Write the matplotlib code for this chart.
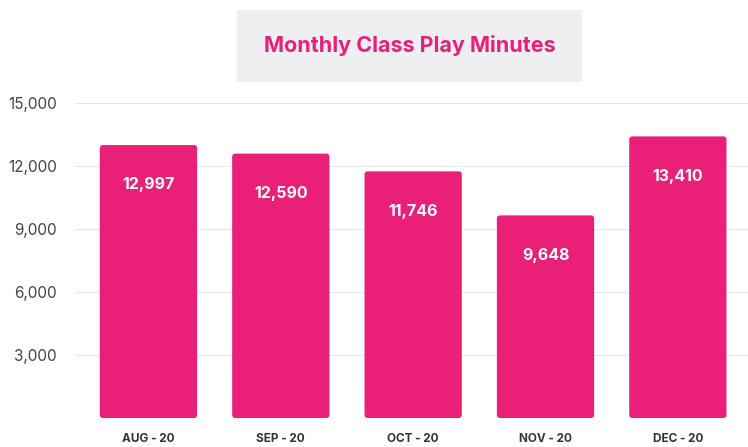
import matplotlib
matplotlib.use("Agg")
import matplotlib.pyplot as plt
from matplotlib.patches import FancyBboxPatch

months = ["AUG - 20", "SEP - 20", "OCT - 20", "NOV - 20", "DEC - 20"]
minutes = [12997, 12590, 11746, 9648, 13410]
y_ticks = [3000, 6000, 9000, 12000, 15000]

pink = "#EA1F78"

plt.rcParams["font.family"] = ["Inter", "DejaVu Sans"]

fig = plt.figure(figsize=(7.48, 4.47), dpi=100)
ax = fig.add_axes([75 / 748, 29 / 447, 673 / 748, 315 / 447])

x = list(range(len(months)))
bars = ax.bar(x, minutes, width=0.735, color=pink, zorder=2)

# rounded corners: swap each bar for a rounded box with the same geometry
for b in bars:
    bx, by = b.get_x(), b.get_y()
    bw, bh = b.get_width(), b.get_height()
    b.set_visible(False)
    patch = FancyBboxPatch((bx, by), bw, bh,
                           boxstyle="round,pad=0,rounding_size=0.025",
                           mutation_aspect=15000 / 315 * 132.4,
                           facecolor=pink, edgecolor="none", zorder=2)
    ax.add_patch(patch)

for xi, v in zip(x, minutes):
    ax.text(xi, v - 1900, f"{v:,}", ha="center", va="center",
            color="white", fontsize=11.5, fontweight="bold", zorder=3)

ax.set_xlim(-0.555, 4.53)
ax.set_ylim(0, 15000)
ax.set_yticks(y_ticks)
ax.set_yticklabels([f"{t:,}" for t in y_ticks], color="#444444", fontsize=11)
ax.set_xticks(x)
ax.set_xticklabels(months, color="#333333", fontsize=8.5, fontweight="bold")
ax.tick_params(axis="both", length=0)
ax.tick_params(axis="y", pad=13)
ax.tick_params(axis="x", pad=11)
ax.grid(axis="y", color="#e8e8e8", linewidth=0.8, zorder=0)
for s in ax.spines.values():
    s.set_visible(False)

# title box
fig.patches.append(FancyBboxPatch((237 / 748, (447 - 82) / 447), 345 / 748, 72 / 447,
                                  boxstyle="square,pad=0", transform=fig.transFigure,
                                  facecolor="#efeff1", edgecolor="none"))
fig.text(410 / 748, (447 - 46) / 447, "Monthly Class Play Minutes", ha="center",
         va="center", color=pink, fontsize=15.5, fontweight="bold")

fig.savefig("out.png", dpi=100)
